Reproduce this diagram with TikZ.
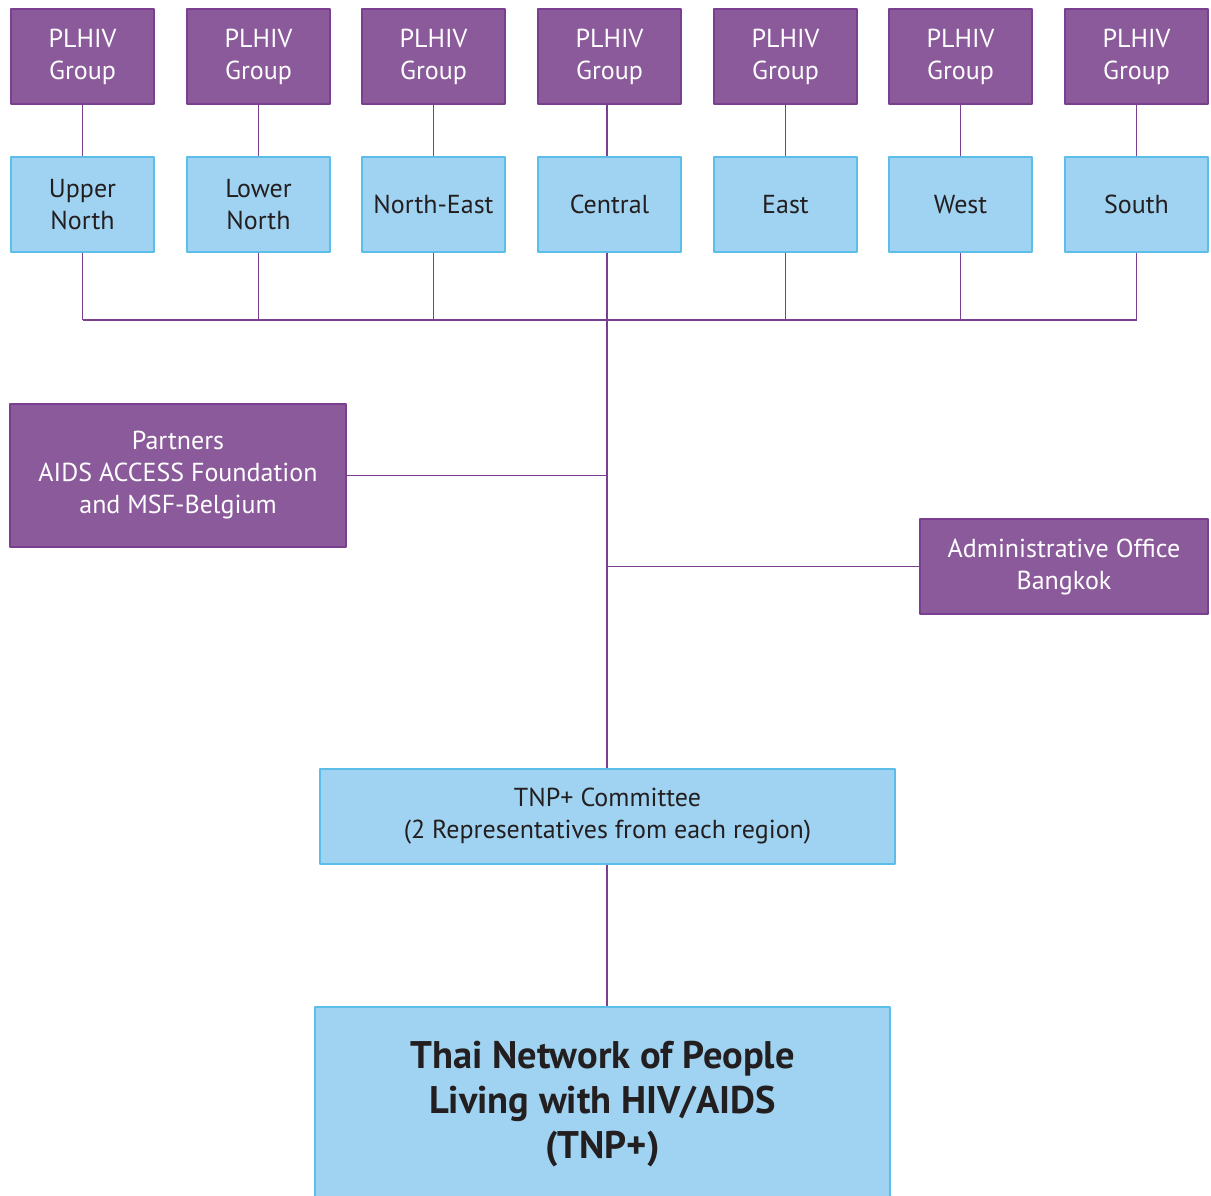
\documentclass[tikz,border=0pt]{standalone}
\usepackage{fontspec}
\setmainfont{PT Sans}
\usetikzlibrary{positioning}
\definecolor{plum}{RGB}{139,90,155}
\definecolor{plumline}{RGB}{123,63,143}
\definecolor{sky}{RGB}{160,211,241}
\definecolor{skyline}{RGB}{91,189,232}
\definecolor{ink}{RGB}{35,31,32}
\begin{document}
\begin{tikzpicture}[x=1pt,y=-1pt,line join=round,thick]
	\tikzset{every node/.style={align=center,inner sep=0pt,font=\fontsize{26}{32}\selectfont},
		grp/.style={draw=plumline,line width=1.3pt,fill=plum,text=white,minimum width=143pt,minimum height=95pt},
		reg/.style={draw=skyline,line width=1.3pt,fill=sky,text=ink,minimum width=143pt,minimum height=95pt},
		link/.style={draw=plumline,line width=1.2pt}}
	\useasboundingbox (0,0) rectangle (1211,1195);
	% top row and regions
	\foreach \i/\x/\lab in {1/82.5/{Upper\\North},2/258.5/{Lower\\North},3/433.5/North-East,4/609.5/Central,5/785.5/East,6/960.5/West,7/1136.5/South}{
		\node[grp] (g\i) at (\x,56.5) {PLHIV\\Group};
		\node[reg] (r\i) at (\x,204.5) {\lab};
	}
	\node[grp,minimum width=336pt,minimum height=143pt] (part) at (178,475.5) {Partners\\AIDS ACCESS Foundation\\and MSF-Belgium};
	\node[grp,minimum width=288pt,minimum height=95pt] (admin) at (1064,566.5) {Administrative Office\\Bangkok};
	\node[reg,minimum width=575pt,minimum height=95pt] (cmt) at (607.5,816.5) {TNP+ Committee\\(2 Representatives from each region)};
	\node[reg,minimum width=575pt,minimum height=194pt,font=\fontsize{38.5}{45}\selectfont\bfseries] (tnp) at (602.5,1104) {Thai Network of People\\Living with HIV/AIDS\\(TNP+)};
	% bus
	\coordinate (bus) at (607,320);
	\foreach \i in {1,2,3,5,6,7}{
		\draw[link] (g\i) -- (r\i);
		\draw[link] (r\i.south) -- (r\i.south |- bus);
	}
	\draw[link] (g4.south -| bus) -- (r4.north -| bus);
	\draw[link] (r4.south -| bus) -- (bus);
	\draw[link] (r1.south |- bus) -- (r7.south |- bus);
	\draw[link] (bus) -- (bus |- cmt.north);
	\draw[link] (part.east) -- (part.east -| bus);
	\draw[link] (admin.west) -- (admin.west -| bus);
	\draw[link] (cmt.south -| bus) -- (tnp.north -| bus);
\end{tikzpicture}
\end{document}
